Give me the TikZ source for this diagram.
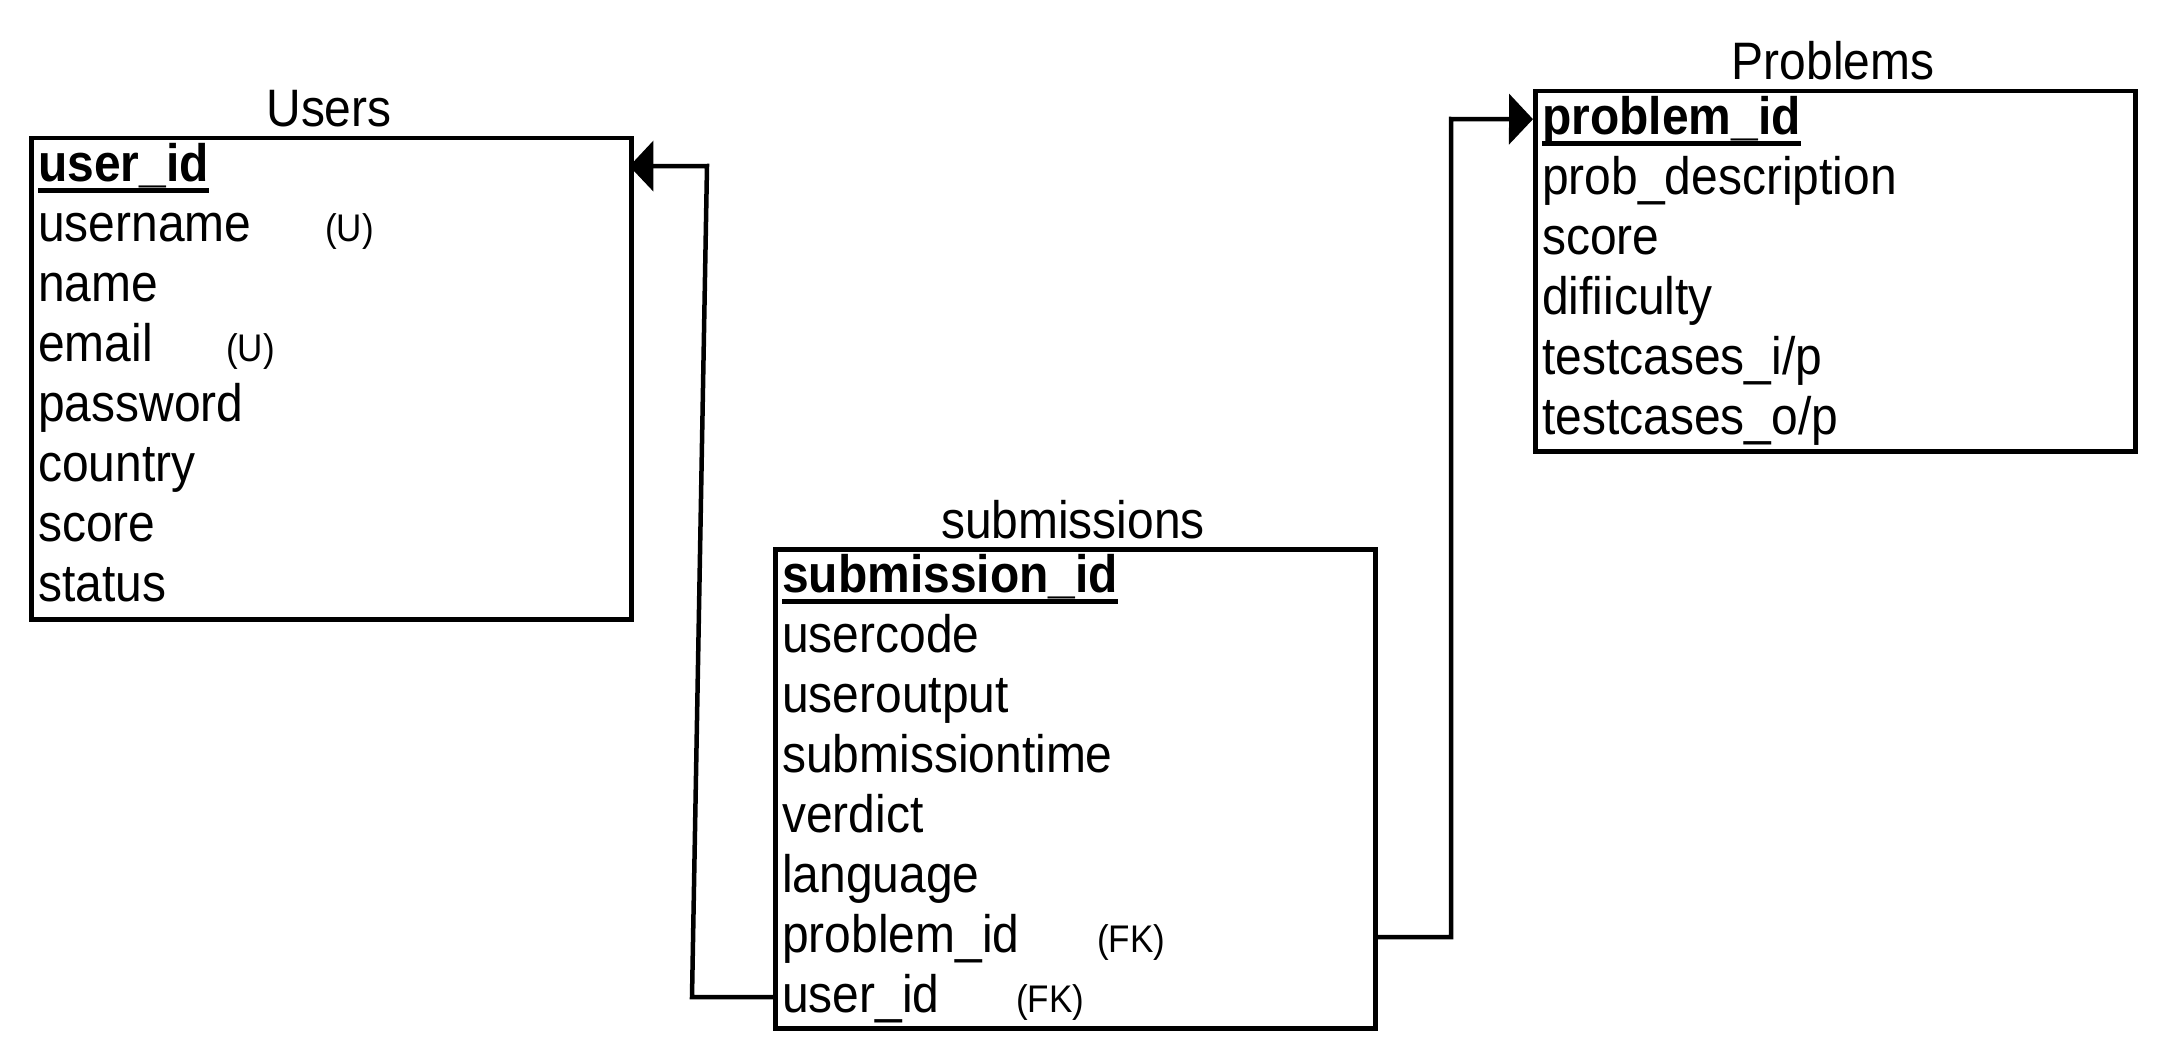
\documentclass[tikz,border=0pt]{standalone}
\usepackage{fontspec}
\setmainfont{Liberation Sans}[FakeStretch=0.91]
\usetikzlibrary{arrows.meta}
\newcommand\rowfont{\fontsize{52.7pt}{60pt}\selectfont}
\newcommand\notefont{\fontsize{38.5pt}{46pt}\selectfont}
\newcommand\pkey[1]{\setbox0\hbox{\bfseries #1}\rlap{\rule[-11.5pt]{\wd0}{4.5pt}}\box0}
\newcommand\withnote[3]{\rlap{#1}\hspace*{#2}{\notefont #3}}
\begin{document}
\begin{tikzpicture}[x=1pt,y=-1pt,
  tbl/.style={draw=black, line width=4.5pt, anchor=north west, minimum width=600pt, inner sep=0pt},
  row/.style={anchor=north west, minimum width=600pt, minimum height=60pt, text width=582pt,
    inner xsep=9pt, inner ysep=0pt, text height=39pt, text depth=9pt, align=left, font=\rowfont},
  title/.style={anchor=base, font=\rowfont, inner sep=0pt},
  conn/.style={draw=black, line width=4.5pt},
  fk/.style={conn, -{Triangle[length=24pt,width=50pt]}}
]
\useasboundingbox[fill=white] (0,0) rectangle (2160,1054);

% Users
\node[title] (tusers) at (329,127) {Users};
\node[tbl, minimum height=481pt] (users) at (29,136) {};
\node[row] (u1) at (29,136) {\pkey{user\_id}};
\node[row] (u2) at (29,196) {\withnote{username}{287pt}{(U)}};
\node[row] (u3) at (29,256) {name};
\node[row] (u4) at (29,316) {\withnote{email}{188pt}{(U)}};
\node[row] (u5) at (29,376) {password};
\node[row] (u6) at (29,436) {country};
\node[row] (u7) at (29,496) {score};
\node[row] (u8) at (29,556) {status};

% submissions
\node[title] (tsub) at (1073,538) {submissions};
\node[tbl, minimum height=479pt] (sub) at (773,547) {};
\node[row] (s1) at (773,547) {\pkey{submission\_id}};
\node[row] (s2) at (773,607) {usercode};
\node[row] (s3) at (773,667) {useroutput};
\node[row] (s4) at (773,727) {submissiontime};
\node[row] (s5) at (773,787) {verdict};
\node[row] (s6) at (773,847) {language};
\node[row] (s7) at (773,907) {\withnote{problem\_id}{315pt}{(FK)}};
\node[row] (s8) at (773,967) {\withnote{user\_id}{234pt}{(FK)}};

% Problems
\node[title] (tprob) at (1833,80) {Problems};
\node[tbl, minimum height=360pt] (prob) at (1533,89) {};
\node[row] (p1) at (1533,89) {\pkey{problem\_id}};
\node[row] (p2) at (1533,149) {prob\_description};
\node[row] (p3) at (1533,209) {score};
\node[row] (p4) at (1533,269) {difiiculty};
\node[row] (p5) at (1533,329) {testcases\_i/p};
\node[row] (p6) at (1533,389) {testcases\_o/p};

% connectors
\coordinate (ub1) at (692,997);
\coordinate (ub2) at (707,166);
\coordinate (pb1) at (1451,937);
\coordinate (pb2) at (1451,119);
\draw[fk] (s8.west) -- (ub1) -- (ub2) -- (u1.east);
\draw[fk] (s7.east) -- (pb1) -- (pb2) -- (p1.west);
\end{tikzpicture}
\end{document}
